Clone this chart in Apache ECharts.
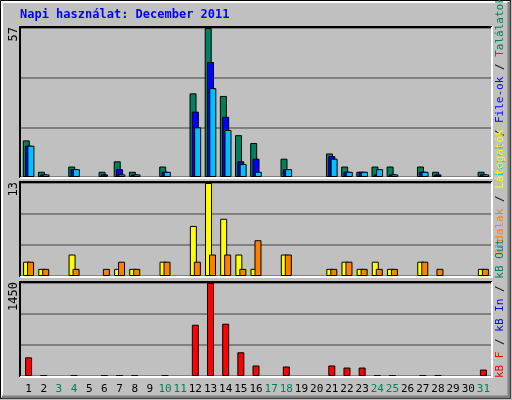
<!DOCTYPE html>
<html>
<head>
<meta charset="utf-8">
<script src="https://cdn.jsdelivr.net/npm/echarts@6/dist/echarts.min.js"></script>
<style>html,body{margin:0;padding:0;background:#c0c0c0}#chart{width:512px;height:400px}</style>
</head>
<body>
<div id="chart"></div>
<script>
// Napi használat - December 2011
const days = ['1','2','3','4','5','6','7','8','9','10','11','12','13','14','15','16','17','18','19','20','21','22','23','24','25','26','27','28','29','30','31'];
const weekend = ['3','4','10','11','17','18','24','25','31'];

const hits  = [14, 2, null, 4, null, 2, 6, 2, null, 4, null, 32, 57, 31, 16, 13, null, 7, null, null, 9, 4, 2, 4, 4, null, 4, 2, null, null, 2];
const files = [12, 1, null, 3, null, 1, 3, 1, null, 2, null, 25, 44, 23, 6, 7, null, 3, null, null, 8, 2, 2, 1, 1, null, 2, 1, null, null, 1];
const pages = [12, 1, null, 3, null, null, 1, 1, null, 2, null, 19, 34, 18, 5, 2, null, 3, null, null, 7, 2, 2, 3, 1, null, 2, null, null, null, 1];

const visits = [2, 1, null, 3, null, null, 1, 1, null, 2, null, 7, 13, 8, 3, 1, null, 3, null, null, 1, 2, 1, 2, 1, null, 2, null, null, null, 1];
const sites  = [2, 1, null, 1, null, 1, 2, 1, null, 2, null, 2, 3, 3, 1, 5, null, 3, null, null, 1, 2, 1, 1, 1, null, 2, 1, null, null, 1];

const kbytes = [291, 6, null, 6, null, 6, 6, 6, null, 6, null, 799, 1450, 815, 370, 164, null, 148, null, null, 164, 132, 132, 6, 6, null, 6, 6, null, null, 100];

const maxTop = 57, maxMid = 13, maxBot = 1450;

const mono = '"DejaVu Sans Mono", monospace';
const grids = [
  { left: 21, width: 470, top: 28, height: 149 },
  { left: 21, width: 470, top: 183, height: 93 },
  { left: 21, width: 470, top: 283, height: 93 }
];

function xAxis(i, show) {
  return {
    type: 'category', gridIndex: i, data: days,
    axisLine: { show: false }, axisTick: { show: false },
    axisLabel: {
      show: show, interval: 0, margin: 8, fontFamily: mono, fontSize: 11,
      formatter: v => weekend.includes(v) ? '{w|' + v + '}' : '{n|' + v + '}',
      rich: { w: { color: '#00805c', fontFamily: mono, fontSize: 11 }, n: { color: '#000', fontFamily: mono, fontSize: 11 } }
    }
  };
}
function yAxis(i, max) {
  return {
    type: 'value', gridIndex: i, min: 0, max: max, interval: max / 3,
    axisLabel: { show: false }, axisLine: { show: false }, axisTick: { show: false },
    splitLine: { lineStyle: { color: '#808080', width: 2 } }
  };
}
function bar(name, data, color, i, gap) {
  return {
    name: name, type: 'bar', data: data, xAxisIndex: i, yAxisIndex: i,
    barWidth: 7, barGap: gap, animation: false,
    itemStyle: { color: color, borderColor: '#000', borderWidth: 1 }
  };
}
// vertical legend text, read bottom to top, starting at (x, y)
function vText(x, y, parts) {
  return {
    type: 'text', x: x, y: y, rotation: Math.PI / 2,
    style: {
      text: parts.map(p => '{' + p[1] + '|' + p[0] + '}').join(''),
      align: 'left', verticalAlign: 'middle', font: '11px ' + mono,
      rich: {
        g: { fill: '#00805c', fontFamily: mono, fontSize: 11 },
        b: { fill: '#0000ff', fontFamily: mono, fontSize: 11 },
        c: { fill: '#00c0ff', fontFamily: mono, fontSize: 11 },
        y: { fill: '#ffff00', fontFamily: mono, fontSize: 11 },
        o: { fill: '#ff8000', fontFamily: mono, fontSize: 11 },
        r: { fill: '#ff0000', fontFamily: mono, fontSize: 11 },
        k: { fill: '#000', fontFamily: mono, fontSize: 11 }
      }
    }
  };
}
function leftLabel(y, t) {
  return { type: 'text', x: 14, y: y, rotation: Math.PI / 2,
    style: { text: t, align: 'right', verticalAlign: 'middle', font: '12px ' + mono, fill: '#000' } };
}
function panelFrame(g) {
  const x0 = g.left - 1, y0 = g.top - 1, x1 = g.left + g.width + 1, y1 = g.top + g.height + 1;
  return [
    { type: 'polyline', shape: { points: [[x0, y1], [x0, y0], [x1, y0]] }, style: { stroke: '#000', lineWidth: 2, fill: null }, z: 10 },
    { type: 'polyline', shape: { points: [[x1, y0], [x1, y1], [x0, y1]] }, style: { stroke: '#fff', lineWidth: 2, fill: null }, z: 10 }
  ];
}

const chart = echarts.init(document.getElementById('chart'));
chart.setOption({
  backgroundColor: '#c0c0c0',
  animation: false,
  grid: grids,
  xAxis: [xAxis(0, false), xAxis(1, false), xAxis(2, true)],
  yAxis: [yAxis(0, maxTop), yAxis(1, maxMid), yAxis(2, maxBot)],
  series: [
    bar('Találatok', hits, '#00805c', 0, '-67%'),
    bar('File-ok', files, '#0000ff', 0, '-67%'),
    bar('Lapok', pages, '#00c0ff', 0, '-67%'),
    bar('Látogatók', visits, '#ffff00', 1, '-43%'),
    bar('Oldalak', sites, '#ff8000', 1, '-43%'),
    bar('kB F', kbytes, '#ff0000', 2, '0%')
  ],
  graphic: [
    { type: 'rect', shape: { x: 0.5, y: 0.5, width: 510, height: 398 }, style: { fill: null, stroke: '#000', lineWidth: 1 }, z: -1 },
    { type: 'polyline', shape: { points: [[2, 397], [2, 2], [509, 2]] }, style: { stroke: '#fff', lineWidth: 2, fill: null } },
    { type: 'polyline', shape: { points: [[509, 2], [509, 397], [2, 397]] }, style: { stroke: '#808080', lineWidth: 3, fill: null } },
    { type: 'text', x: 20, y: 15, style: { text: 'Napi használat: December 2011', font: 'bold 12px ' + mono, fill: '#0000ff', verticalAlign: 'middle' } },
    leftLabel(27, '57'), leftLabel(182, '13'), leftLabel(282, '1450'),
    ...panelFrame(grids[0]), ...panelFrame(grids[1]), ...panelFrame(grids[2]),
    vText(500, 176, [['Lapok', 'c'], [' / ', 'k'], ['File-ok', 'b'], [' / ', 'k'], ['Találatok', 'g']]),
    vText(500, 255, [['Oldalak', 'o'], [' / ', 'k'], ['Látogatók', 'y']]),
    vText(500, 378, [['kB F', 'r'], [' / ', 'k'], ['kB In', 'b'], [' / ', 'k'], ['kB Out', 'g']])
  ]
});
</script>
</body>
</html>
